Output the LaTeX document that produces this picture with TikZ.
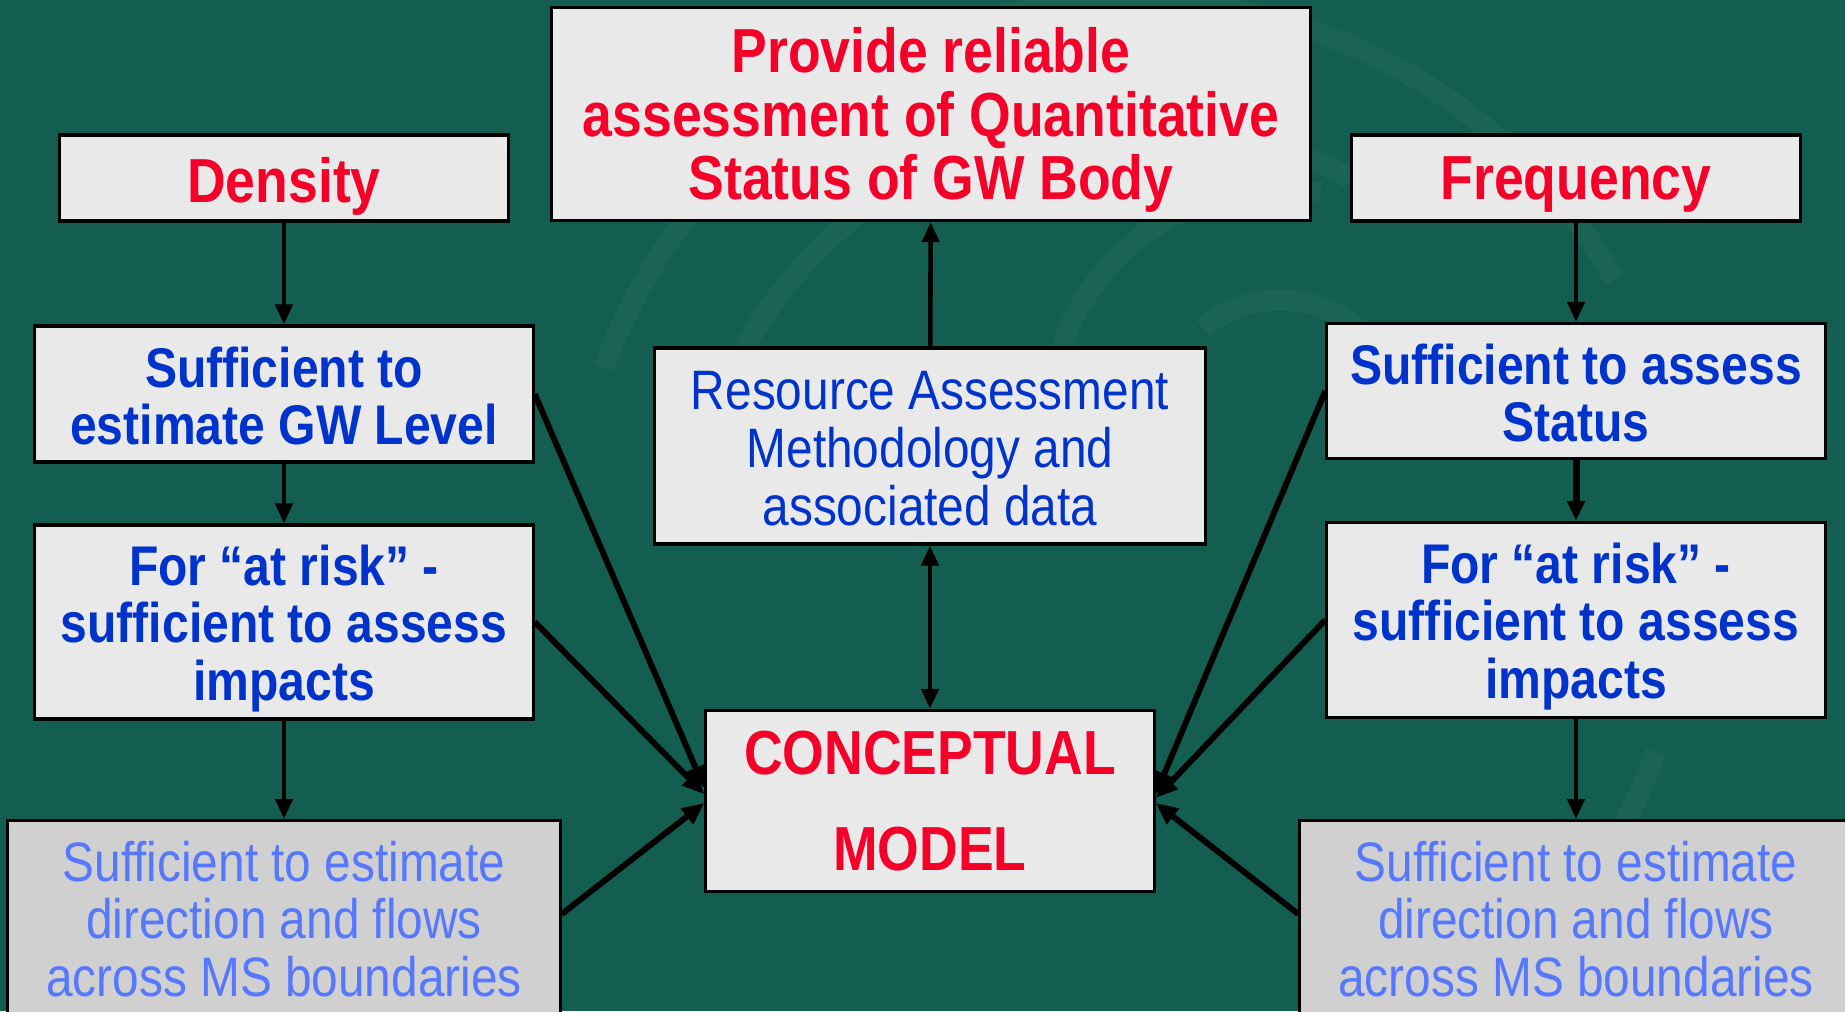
\documentclass[tikz,border=0pt]{standalone}
\usepackage{fontspec}
\setmainfont[FakeStretch=0.86]{Liberation Sans}
\usetikzlibrary{arrows.meta,positioning}
\definecolor{slidegreen}{RGB}{19,94,80}
\definecolor{swirlgreen}{RGB}{90,150,130}
\definecolor{boxgray}{RGB}{233,233,233}
\definecolor{flowgray}{RGB}{208,208,208}
\definecolor{titlered}{RGB}{245,0,40}
\definecolor{darkblue}{RGB}{0,51,204}
\definecolor{lightblue}{RGB}{85,120,255}

\begin{document}
\begin{tikzpicture}[
  x=0.01cm, y=-0.01cm,
  every node/.style={text centered, align=center},
  box/.style={rectangle, draw=black, line width=0.9pt, fill=boxgray, inner sep=0pt},
  flow_box/.style={box, fill=flowgray, minimum width=5.52cm, minimum height=2.4cm, anchor=north},
  red_text/.style={font=\bfseries\fontsize{17.7}{18.1}\selectfont, text=titlered},
  blue_text/.style={font=\bfseries\fontsize{15.9}{16.4}\selectfont, text=darkblue},
  plain_text/.style={font=\fontsize{15.8}{16.4}\selectfont, text=darkblue},
  flow_text/.style={plain_text, text=lightblue},
  arrow/.style={-{Triangle[length=0.2cm, width=0.17cm]}, line width=1.3pt},
  feed/.style={-{Triangle[length=0.22cm, width=0.19cm]}, line width=1.7pt},
  swirl/.style={swirlgreen, opacity=0.1, line width=6pt}
]

% Background
\useasboundingbox (0,0) rectangle (1845,1011);
\fill[slidegreen] (0,0) rectangle (1845,1011);
\clip (0,0) rectangle (1845,1011);
\draw[swirl] (1130,560) ++(200:560) arc (200:330:560);
\draw[swirl] (1130,560) ++(190:440) arc (190:300:440);
\draw[swirl] (1280,420) ++(170:230) arc (170:280:230);
\draw[swirl] (1280,420) ++(230:120) arc (230:330:120);
\draw[swirl] (1130,560) ++(20:560) arc (20:80:560);

% Goal
\node[box, minimum width=7.58cm, minimum height=2.13cm] (goal) at (931,114) {};
\node[red_text, yshift=-0.06cm] (goaltext) at (goal) {Provide reliable\\assessment of Quantitative\\Status of GW Body};

% Left column
\node[box, minimum width=4.49cm, minimum height=0.86cm] (density) at (284,178) {};
\node[red_text, yshift=-0.08cm] (densitytext) at (density) {Density};
\node[box, minimum width=4.98cm, minimum height=1.36cm] (gwlevel) at (284,394) {};
\node[blue_text, yshift=-0.02cm] (gwleveltext) at (gwlevel) {Sufficient to\\estimate GW Level};
\node[box, minimum width=4.98cm, minimum height=1.94cm] (riskleft) at (284,622) {};
\node[blue_text, yshift=-0.065cm] (risklefttext) at (riskleft) {For ``at risk'' -\\sufficient to assess\\impacts};
\node[flow_box] (flowleft) at (284,819) {};
\node[flow_text] (flowlefttext) at (284,919) {Sufficient to estimate\\direction and flows\\across MS boundaries};

% Right column
\node[box, minimum width=4.48cm, minimum height=0.86cm] (frequency) at (1576,178) {};
\node[red_text, yshift=-0.07cm] (frequencytext) at (frequency) {Frequency};
\node[box, minimum width=4.98cm, minimum height=1.35cm] (status) at (1576,391) {};
\node[blue_text, yshift=-0.02cm] (statustext) at (status) {Sufficient to assess\\Status};
\node[box, minimum width=4.98cm, minimum height=1.95cm] (riskright) at (1576,620) {};
\node[blue_text, yshift=-0.065cm] (riskrighttext) at (riskright) {For ``at risk'' -\\sufficient to assess\\impacts};
\node[flow_box] (flowright) at (1576,819) {};
\node[flow_text] (flowrighttext) at (1576,919) {Sufficient to estimate\\direction and flows\\across MS boundaries};

% Middle
\node[box, minimum width=5.5cm, minimum height=1.96cm] (method) at (930,446) {};
\node[plain_text, yshift=-0.025cm] (methodtext) at (method) {Resource Assessment\\Methodology and\\associated data};
\node[box, minimum width=4.48cm, minimum height=1.81cm] (model) at (930,801) {};
\node[red_text, font=\bfseries\fontsize{17.7}{27.1}\selectfont] (modeltext) at (model) {CONCEPTUAL\\MODEL};

% Arrows down the columns
\draw[arrow] (density) -- (gwlevel);
\draw[arrow] (gwlevel) -- (riskleft);
\draw[arrow] (riskleft.south) -- (riskleft.south |- flowleft.north);
\draw[arrow] (frequency) -- (status);
\draw[arrow, line width=2pt] (status) -- (riskright);
\draw[arrow] (riskright.south) -- (riskright.south |- flowright.north);

% Middle arrows
\draw[arrow] (method) -- (goal);
\draw[arrow, {Triangle[length=0.2cm, width=0.17cm]}-{Triangle[length=0.2cm, width=0.17cm]}] (method) -- (model);

% Feeds into the model
\draw[feed] (gwlevel.east) -- ([yshift=0.13cm]model.west);
\draw[feed] (riskleft.east) -- ([yshift=0.07cm]model.west);
\draw[feed] ([yshift=0.05cm]flowleft.east |- flowlefttext) -- ([yshift=-0.02cm]model.west);
\draw[feed] (status.west) -- ([yshift=0.07cm]model.east);
\draw[feed] (riskright.west) -- ([yshift=0.03cm]model.east);
\draw[feed] ([yshift=0.05cm]flowright.west |- flowrighttext) -- ([yshift=-0.02cm]model.east);

\end{tikzpicture}
\end{document}
